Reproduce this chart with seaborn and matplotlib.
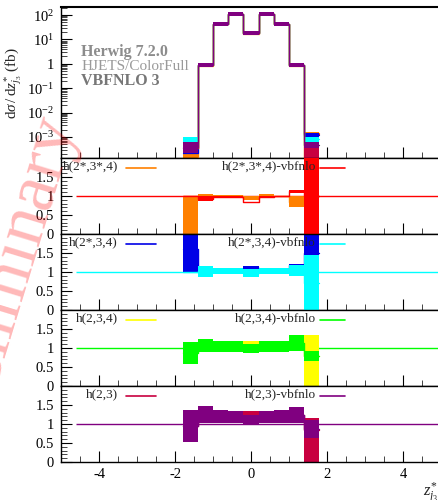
import numpy as np
import matplotlib
matplotlib.use("Agg")
import matplotlib.pyplot as plt
import seaborn as sns
from matplotlib.ticker import MultipleLocator, FixedLocator, FixedFormatter, LogLocator, FuncFormatter, NullFormatter

nan = np.nan

# ---------------- data ----------------
edges = [-1.8, -1.4, -1.0, -0.6, -0.2, 0.2, 0.6, 1.0, 1.4, 1.8]
hist_range = (-4.6, 5.0)

labels = ["h(2*,3*,4)", "h(2*,3*,4)-vbfnlo", "h(2*,3,4)", "h(2*,3,4)-vbfnlo",
          "h(2,3,4)", "h(2,3,4)-vbfnlo", "h(2,3)", "h(2,3)-vbfnlo"]
colors = ["#FF8000", "#FF0000", "#0000E6", "#00FFFF",
          "#FFFF00", "#00FF00", "#C80040", "#800080"]

# main panel: band low / high edges per bin (fb)
orange_lo = [1e-5, 0.74, 37, 94, 15, 94, 37, 0.74, 1.40e-3]
orange_hi = [2.0e-4, 0.98, 48, 122, 20, 122, 48, 0.98, 1.55e-3]
red_lo = [2.5e-4, 0.78, 38, 96, 16, 96, 38, 0.78, 1.20e-3]
red_hi = [5.5e-4, 0.98, 48, 122, 20, 122, 48, 0.98, 1.50e-3]
blue_lo = [2.1e-4, 0.78, 38, 96, 16, 96, 38, 0.78, 1.02e-3]
blue_hi = [2.4e-4, 0.98, 48, 122, 20, 122, 48, 0.98, 1.41e-3]
cyan_lo = [6.5e-4, 0.78, 38, 96, 16, 96, 38, 0.78, 6.5e-4]
cyan_hi = [1.0e-3, 0.98, 48, 122, 20, 122, 48, 0.98, 1.02e-3]
yellow_lo = [2.5e-4, 0.78, 38, 96, 16, 96, 38, 0.78, 1e-5]
yellow_hi = [5.0e-4, 0.98, 48, 122, 20, 122, 48, 0.98, 5.0e-4]
green_lo = [2.5e-4, 0.78, 38, 96, 16, 96, 38, 0.78, 3.5e-4]
green_hi = [5.0e-4, 0.98, 48, 122, 20, 122, 48, 0.98, 6.0e-4]
crimson_lo = [2.5e-4, 0.78, 38, 96, 16, 96, 38, 0.78, 1e-5]
crimson_hi = [5.0e-4, 0.98, 48, 122, 20, 122, 48, 0.98, 3.5e-4]
purple_lo = [2.2e-4, 0.75, 35.5, 92, 15.2, 92, 35.5, 0.75, 3.5e-4]
purple_hi = [6.5e-4, 1.07, 52, 132, 21.8, 132, 52, 1.07, 6.0e-4]

# ratio panels: central value, band low, band high per bin
orange_r_mid = [1.0, 0.99, 0.99, 1.0, 0.95, 1.0, 0.99, 0.85, 1.0]
orange_r_lo = [0.0, 0.93, 0.96, 0.96, 0.90, 0.95, 0.98, 0.70, 0.0]
orange_r_hi = [1.0, 1.05, 1.02, 1.03, 1.00, 1.04, 1.01, 1.00, 2.5]
red_r_mid = [1.0, 0.93, 0.97, 0.98, 0.83, 0.98, 1.0, 1.12, 1.0]
red_r_lo = [nan, 0.86, 0.95, 0.97, 0.82, 0.97, 0.99, 1.07, 0.0]
red_r_hi = [nan, 1.00, 0.99, 0.99, 0.84, 0.99, 1.01, 1.16, 2.5]

blue_r_mid = [1.6, 1.02, 1.05, 1.05, 1.11, 1.06, 1.05, 1.18, 1.5]
blue_r_lo = [1.0, 0.98, 1.02, 1.03, 1.06, 1.03, 1.00, 1.15, 0.9]
blue_r_hi = [2.5, 1.06, 1.11, 1.10, 1.16, 1.11, 1.10, 1.21, 2.5]
cyan_r_mid = [1.0, 1.02, 1.02, 1.02, 0.97, 1.02, 1.02, 1.04, 0.72]
cyan_r_lo = [nan, 0.87, 0.94, 0.94, 0.87, 0.95, 0.95, 0.90, 0.0]
cyan_r_hi = [nan, 1.17, 1.11, 1.10, 1.08, 1.11, 1.11, 1.18, 1.45]

yellow_r_mid = [0.9, 1.05, 1.03, 1.03, 1.05, 1.03, 1.03, 1.1, 0.8]
yellow_r_lo = [0.60, 0.92, 0.92, 0.92, 0.95, 0.92, 0.92, 0.95, 0.0]
yellow_r_hi = [1.15, 1.22, 1.15, 1.15, 1.18, 1.15, 1.15, 1.30, 1.34]
green_r_mid = [0.88, 1.07, 1.04, 1.04, 0.98, 1.04, 1.04, 1.13, 0.8]
green_r_lo = [0.58, 0.90, 0.90, 0.90, 0.86, 0.90, 0.90, 0.93, 0.67]
green_r_hi = [1.17, 1.25, 1.18, 1.18, 1.11, 1.18, 1.18, 1.34, 0.93]

crimson_r_mid = [0.95, 1.25, 1.2, 1.18, 1.17, 1.18, 1.2, 1.24, 0.85]
crimson_r_lo = [0.55, 1.05, 1.05, 1.05, 1.00, 1.05, 1.05, 1.05, 0.0]
crimson_r_hi = [1.35, 1.45, 1.35, 1.32, 1.34, 1.32, 1.35, 1.43, 1.15]
purple_r_mid = [0.95, 1.25, 1.2, 1.18, 1.12, 1.18, 1.2, 1.24, 0.87]
purple_r_lo = [0.52, 1.03, 1.03, 1.03, 1.00, 1.03, 1.03, 1.03, 0.64]
purple_r_hi = [1.37, 1.48, 1.37, 1.34, 1.25, 1.34, 1.37, 1.45, 1.10]

main_lo = [orange_lo, red_lo, blue_lo, cyan_lo, yellow_lo, green_lo, crimson_lo, purple_lo]
main_hi = [orange_hi, red_hi, blue_hi, cyan_hi, yellow_hi, green_hi, crimson_hi, purple_hi]
ratio_mid = [orange_r_mid, red_r_mid, blue_r_mid, cyan_r_mid,
             yellow_r_mid, green_r_mid, crimson_r_mid, purple_r_mid]
ratio_lo = [orange_r_lo, red_r_lo, blue_r_lo, cyan_r_lo,
            yellow_r_lo, green_r_lo, crimson_r_lo, purple_r_lo]
ratio_hi = [orange_r_hi, red_r_hi, blue_r_hi, cyan_r_hi,
            yellow_r_hi, green_r_hi, crimson_r_hi, purple_r_hi]

# ---------------- style ----------------
sns.set_theme(style="ticks")
SERIF = ["Liberation Serif", "DejaVu Serif"]
plt.rcParams["font.family"] = SERIF
plt.rcParams["mathtext.fontset"] = "custom"
plt.rcParams["mathtext.rm"] = "Liberation Serif"
plt.rcParams["mathtext.it"] = "Liberation Serif:italic"
plt.rcParams["mathtext.bf"] = "Liberation Serif:bold"
plt.rcParams["axes.unicode_minus"] = False
plt.rcParams["font.size"] = 10

edges_a = np.array(edges)
widths = np.diff(edges_a)


def draw_band(ax, lo, hi, color, zorder):
    lo = np.array(lo, dtype=float)
    hi = np.array(hi, dtype=float)
    ok = ~np.isnan(lo)
    ax.bar(edges_a[:-1][ok], (hi - lo)[ok], bottom=lo[ok], width=widths[ok],
           align="edge", color=color, linewidth=0, zorder=zorder)


def draw_step(ax, mid, color, zorder, lw=1.0):
    mid = list(mid)
    sns.lineplot(x=edges, y=mid + [mid[-1]], drawstyle="steps-post",
                 color=color, lw=lw, ax=ax, zorder=zorder, estimator=None,
                 sort=False, legend=False)


fig = plt.figure(figsize=(4.39, 5.0), dpi=100)
FW, FH = 439.0, 500.0
left_px, right_px = 61.0, 441.0
L = left_px / FW
W = (right_px - left_px) / FW

main = fig.add_axes([L, 1 - 158 / FH, W, 151 / FH])
panels = []
for k in range(4):
    top = 158 + 76 * k
    panels.append(fig.add_axes([L, 1 - (top + 76) / FH, W, 76 / FH]))

# ---------------- main panel ----------------
for i in range(8):
    draw_band(main, main_lo[i], main_hi[i], colors[i], 2 + 2 * i)
    mid = list(np.sqrt(np.array(main_lo[i]) * np.array(main_hi[i])))
    draw_step(main, mid, colors[i], 3 + 2 * i, lw=0.9)

main.set_yscale("log")
main.set_xlim(-5, 5)
main.set_ylim(10 ** -3.86, 10 ** 2.33)
main.yaxis.set_major_locator(LogLocator(base=10, numticks=20))
main.yaxis.set_minor_locator(LogLocator(base=10, subs=np.arange(2, 10), numticks=20))


def logfmt(v, pos):
    e = int(round(np.log10(v)))
    if e == 0:
        return "1"
    return r"$10^{%d}$" % e


main.yaxis.set_major_formatter(FuncFormatter(logfmt))
main.yaxis.set_minor_formatter(NullFormatter())
main.set_ylabel(r"$\mathrm{d}\sigma\,/\,\mathrm{d}z^{*}_{j_3}$ (fb)", fontsize=11, labelpad=2)
main.set_xticklabels([])

main.text(0.053, 0.675, "Herwig 7.2.0", transform=main.transAxes, fontsize=11.5,
          fontweight="bold", color="#8c8c8c", va="baseline", zorder=30)
main.text(0.053, 0.583, "HJETS/ColorFull", transform=main.transAxes, fontsize=11,
          color="#9a9a9a", va="baseline", zorder=30)
main.text(0.053, 0.483, "VBFNLO 3", transform=main.transAxes, fontsize=11.5,
          fontweight="bold", color="#777777", va="baseline", zorder=30)

# ---------------- ratio panels ----------------
for k, ax in enumerate(panels):
    a, b = 2 * k, 2 * k + 1
    ax.hlines(1.0, hist_range[0], hist_range[1], color=colors[b], lw=1.0, zorder=1)
    draw_band(ax, ratio_lo[a], ratio_hi[a], colors[a], 2)
    draw_step(ax, ratio_mid[a], colors[a], 3)
    draw_band(ax, ratio_lo[b], ratio_hi[b], colors[b], 4)
    draw_step(ax, ratio_mid[b], colors[b], 5)
    ax.set_xlim(-5, 5)
    ax.set_ylim(0, 2)
    ax.yaxis.set_major_locator(FixedLocator([0, 0.5, 1, 1.5]))
    ax.yaxis.set_major_formatter(FixedFormatter(["0", "0.5", "1", "1.5"]))
    ax.yaxis.set_minor_locator(MultipleLocator(0.1))
    ax.set_ylabel("")
    # legend-like labels
    ax.text(0.150, 0.855, labels[a], transform=ax.transAxes, ha="right",
            va="baseline", fontsize=9.5, zorder=30)
    ax.plot([0.171, 0.250], [0.868, 0.868], transform=ax.transAxes,
            color=colors[a], lw=1.2, zorder=30)
    ax.text(0.671, 0.855, labels[b], transform=ax.transAxes, ha="right",
            va="baseline", fontsize=9.5, zorder=30)
    ax.plot([0.682, 0.747], [0.868, 0.868], transform=ax.transAxes,
            color=colors[b], lw=1.2, zorder=30)
    if k < 3:
        ax.set_xticklabels([])

for ax in [main] + panels:
    ax.xaxis.set_major_locator(MultipleLocator(2))
    ax.xaxis.set_minor_locator(MultipleLocator(0.5))
    ax.tick_params(axis="both", which="major", direction="in", length=8, width=0.8,
                   top=False, right=False, labelsize=10.5, colors="black", pad=5)
    ax.tick_params(axis="both", which="minor", direction="in", length=4, width=0.6,
                   top=False, right=False)
    for s in ax.spines.values():
        s.set_linewidth(1.0)
        s.set_color("black")
    ax.set_xlabel("")
    ax.set_facecolor("white")

main.spines["top"].set_linewidth(1.5)

bottom = panels[-1]
bottom.tick_params(axis="x", which="major", pad=4)
bottom.set_xlabel(r"$z^{*}_{j_3}$", fontsize=12, loc="right")
bottom.xaxis.set_label_coords(0.995, -0.24)

# watermark
fig.text(0.02, 0.44, "Preliminary", rotation=73, color="red", alpha=0.28,
         fontsize=52, ha="center", va="center", rotation_mode="anchor",
         family=SERIF, zorder=100)

fig.savefig("out.png", dpi=100)
